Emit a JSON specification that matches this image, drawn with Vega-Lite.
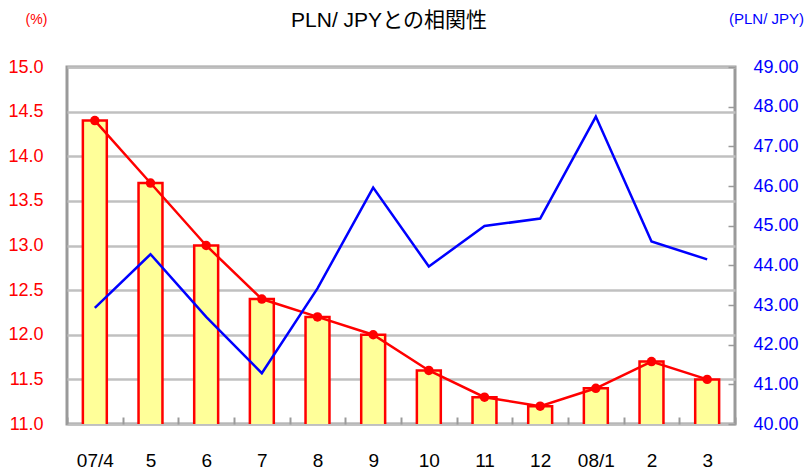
{
  "$schema": "https://vega.github.io/schema/vega-lite/v6.json",
  "width": 668,
  "height": 357,
  "autosize": "none",
  "padding": {"left": 67, "top": 67, "right": 74, "bottom": 47},
  "background": "white",
  "config": {
    "font": "Liberation Sans, Noto Sans CJK JP",
    "view": {"stroke": "#9a9a9a", "strokeWidth": 3}
  },
  "title": {
    "text": "PLN/ JPYとの相関性",
    "fontSize": 21,
    "fontWeight": "normal",
    "color": "#000000",
    "font": "Liberation Sans, Noto Sans CJK JP",
    "anchor": "middle",
    "frame": "group",
    "baseline": "alphabetic",
    "dx": -12,
    "offset": -37
  },
  "data": {
    "values": [
      {"m": "07/4", "rate": 14.4, "pln": 42.93},
      {"m": "5", "rate": 13.7, "pln": 44.28},
      {"m": "6", "rate": 13.0, "pln": 42.70},
      {"m": "7", "rate": 12.4, "pln": 41.28},
      {"m": "8", "rate": 12.2, "pln": 43.42},
      {"m": "9", "rate": 12.0, "pln": 45.96},
      {"m": "10", "rate": 11.6, "pln": 43.97},
      {"m": "11", "rate": 11.3, "pln": 44.99},
      {"m": "12", "rate": 11.2, "pln": 45.18},
      {"m": "08/1", "rate": 11.4, "pln": 47.75},
      {"m": "2", "rate": 11.7, "pln": 44.60},
      {"m": "3", "rate": 11.5, "pln": 44.15}
    ]
  },
  "encoding": {
    "x": {
      "field": "m",
      "type": "nominal",
      "sort": null,
      "scale": {"type": "band", "paddingInner": 0, "paddingOuter": 0},
      "axis": {
        "title": null,
        "labelAngle": 0,
        "labelFontSize": 19,
        "labelColor": "#000000",
        "labelPadding": 34,
        "labelOverlap": false,
        "tickBand": "extent",
        "ticks": true,
        "tickSize": -7,
        "tickColor": "#9a9a9a",
        "tickWidth": 2,
        "domain": false,
        "grid": false
      }
    }
  },
  "layer": [
    {
      "encoding": {
        "y": {
          "field": "rate",
          "type": "quantitative",
          "scale": {"domain": [11, 15], "nice": false, "zero": false},
          "axis": {
            "orient": "left",
            "values": [11, 11.5, 12, 12.5, 13, 13.5, 14, 14.5, 15],
            "format": ".1f",
            "labelFontSize": 18,
            "labelColor": "#ff0000",
            "labelPadding": 24,
            "ticks": false,
            "domain": false,
            "grid": true,
            "gridColor": "#c0c0c0",
            "gridWidth": 2.5,
            "title": "(%)",
            "titleAngle": 0,
            "titleFontSize": 14,
            "titleFontWeight": "normal",
            "titleColor": "#ff0000",
            "titleAlign": "center",
            "titleBaseline": "alphabetic",
            "titleX": -31,
            "titleY": -44
          }
        }
      },
      "layer": [
        {
          "mark": {"type": "bar", "clip": true, "width": {"band": 0.43}, "fill": "#ffff99", "stroke": "#ff0000", "strokeWidth": 2.5}
        },
        {
          "mark": {"type": "line", "color": "#ff0000", "strokeWidth": 2.5}
        },
        {
          "mark": {"type": "point", "filled": true, "color": "#ff0000", "size": 90, "opacity": 1}
        }
      ]
    },
    {
      "mark": {"type": "line", "color": "#0000ff", "strokeWidth": 2.5},
      "encoding": {
        "y": {
          "field": "pln",
          "type": "quantitative",
          "scale": {"domain": [40, 49], "nice": false, "zero": false},
          "axis": {
            "orient": "right",
            "values": [40, 41, 42, 43, 44, 45, 46, 47, 48, 49],
            "format": ".2f",
            "labelFontSize": 18,
            "labelColor": "#0000ff",
            "labelPadding": 25,
            "ticks": true,
            "tickSize": -7,
            "tickColor": "#9a9a9a",
            "tickWidth": 1.5,
            "domain": false,
            "grid": false,
            "title": "(PLN/ JPY)",
            "titleAngle": 0,
            "titleFontSize": 15,
            "titleFontWeight": "normal",
            "titleColor": "#0000ff",
            "titleAlign": "center",
            "titleBaseline": "alphabetic",
            "titleX": 31,
            "titleY": -44
          }
        }
      }
    }
  ],
  "resolve": {"scale": {"y": "independent"}}
}
